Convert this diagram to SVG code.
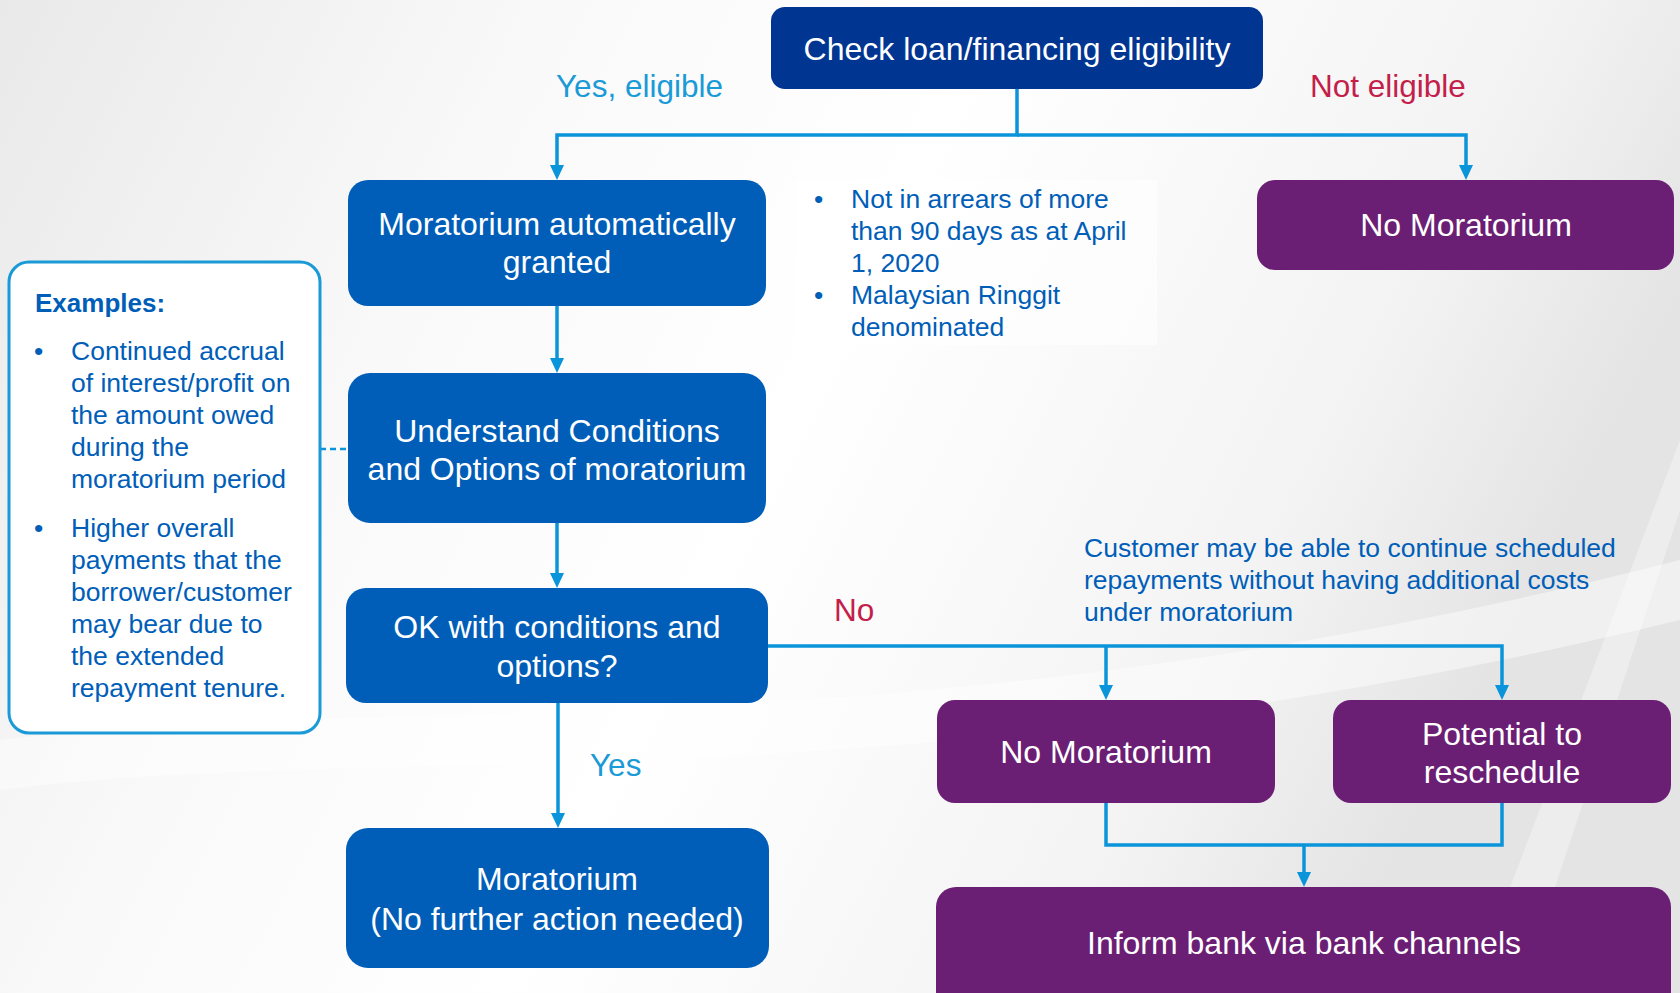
<svg xmlns="http://www.w3.org/2000/svg" width="1680" height="993" viewBox="0 0 1680 993">
<defs>
<linearGradient id="bg" x1="0" y1="0" x2="1" y2="0.3">
<stop offset="0" stop-color="#e9e9e9"/>
<stop offset="0.3" stop-color="#f9f9f9"/>
<stop offset="0.55" stop-color="#ffffff"/>
<stop offset="0.85" stop-color="#f3f3f3"/>
<stop offset="1" stop-color="#e4e4e4"/>
</linearGradient>
<style>
.bl{fill:#005EB8}
.db{fill:#003591}
.pu{fill:#6B1F74}
.nt{font-family:"Liberation Sans",Arial,sans-serif;font-size:32px;fill:#ffffff;text-anchor:middle}
.lb{font-family:"Liberation Sans",Arial,sans-serif;font-size:31.5px}
.sm{font-family:"Liberation Sans",Arial,sans-serif;font-size:26.5px;fill:#005EB8}
.con{fill:none;stroke:#0A94DA;stroke-width:3.5}
.ah{fill:#0A94DA}
</style>
</defs>
<rect x="0" y="0" width="1680" height="993" fill="url(#bg)"/>
<path d="M0,740 C400,690 900,760 1680,560 L1680,620 C900,810 400,740 0,790 Z" fill="#ffffff" opacity="0.45"/>
<path d="M1470,993 L1680,440 L1680,510 L1520,993 Z" fill="#ffffff" opacity="0.35"/>
<rect x="795" y="180" width="362" height="165" fill="#ffffff" opacity="0.6"/>

<g id="connectors">
<path class="con" d="M1017,89 V135 H557 V165"/>
<path class="con" d="M1017,135 H1466 V165"/>
<path class="con" d="M557,306 V358"/>
<path class="con" d="M557,523 V573"/>
<path class="con" d="M558,703 V813"/>
<path class="con" d="M768,646 H1502 V685"/>
<path class="con" d="M1106,646 V685"/>
<path class="con" d="M1106,803 V845 H1502 V803"/>
<path class="con" d="M1304,845 V872"/>
<path d="M320,449 H348" fill="none" stroke="#0A94DA" stroke-width="2.5" stroke-dasharray="6,4"/>
<path class="ah" d="M550,165 H564 L557,180 Z"/>
<path class="ah" d="M1459,165 H1473 L1466,180 Z"/>
<path class="ah" d="M550,358 H564 L557,373 Z"/>
<path class="ah" d="M550,573 H564 L557,588 Z"/>
<path class="ah" d="M551,813 H565 L558,828 Z"/>
<path class="ah" d="M1099,685 H1113 L1106,700 Z"/>
<path class="ah" d="M1495,685 H1509 L1502,700 Z"/>
<path class="ah" d="M1297,872 H1311 L1304,887 Z"/>
<text class="lb" x="556" y="97" fill="#1A9AD6">Yes, eligible</text>
<text class="lb" x="1310" y="97" fill="#C41E4A">Not eligible</text>
<text class="lb" x="834" y="621" fill="#C41E4A">No</text>
<text class="lb" x="590" y="776" fill="#1A9AD6">Yes</text>
</g>

<g id="n-check">
<rect class="db" x="771" y="7" width="492" height="82" rx="14"/>
<text class="nt" x="1017" y="60">Check loan/financing eligibility</text>
</g>
<g id="n-auto">
<rect class="bl" x="348" y="180" width="418" height="126" rx="20"/>
<text class="nt" x="557" y="235">Moratorium automatically</text>
<text class="nt" x="557" y="273">granted</text>
</g>
<g id="n-criteria">
<text class="sm" x="814" y="208">•</text>
<text class="sm" x="851" y="208">Not in arrears of more</text>
<text class="sm" x="851" y="240">than 90 days as at April</text>
<text class="sm" x="851" y="272">1, 2020</text>
<text class="sm" x="814" y="304">•</text>
<text class="sm" x="851" y="304">Malaysian Ringgit</text>
<text class="sm" x="851" y="336">denominated</text>
</g>
<g id="n-nomor1">
<rect class="pu" x="1257" y="180" width="417" height="90" rx="18"/>
<text class="nt" x="1466" y="236">No Moratorium</text>
</g>
<g id="n-understand">
<rect class="bl" x="348" y="373" width="418" height="150" rx="22"/>
<text class="nt" x="557" y="442">Understand Conditions</text>
<text class="nt" x="557" y="480">and Options of moratorium</text>
</g>
<g id="n-examples">
<rect x="9" y="262" width="311" height="471" rx="20" fill="#ffffff" stroke="#1A9AD6" stroke-width="3"/>
<text x="35" y="312" font-family="Liberation Sans, Arial, sans-serif" font-size="26px" font-weight="bold" fill="#005EB8">Examples:</text>
<text class="sm" x="34" y="360">•</text>
<text class="sm" x="71" y="360">Continued accrual</text>
<text class="sm" x="71" y="392">of interest/profit on</text>
<text class="sm" x="71" y="424">the amount owed</text>
<text class="sm" x="71" y="456">during the</text>
<text class="sm" x="71" y="488">moratorium period</text>
<text class="sm" x="34" y="537">•</text>
<text class="sm" x="71" y="537">Higher overall</text>
<text class="sm" x="71" y="569">payments that the</text>
<text class="sm" x="71" y="601">borrower/customer</text>
<text class="sm" x="71" y="633">may bear due to</text>
<text class="sm" x="71" y="665">the extended</text>
<text class="sm" x="71" y="697">repayment tenure.</text>
</g>
<g id="n-ok">
<rect class="bl" x="346" y="588" width="422" height="115" rx="20"/>
<text class="nt" x="557" y="638">OK with conditions and</text>
<text class="nt" x="557" y="677">options?</text>
</g>
<g id="n-customer">
<text class="sm" x="1084" y="557">Customer may be able to continue scheduled</text>
<text class="sm" x="1084" y="589">repayments without having additional costs</text>
<text class="sm" x="1084" y="621">under moratorium</text>
</g>
<g id="n-nomor2">
<rect class="pu" x="937" y="700" width="338" height="103" rx="18"/>
<text class="nt" x="1106" y="763">No Moratorium</text>
</g>
<g id="n-potential">
<rect class="pu" x="1333" y="700" width="338" height="103" rx="18"/>
<text class="nt" x="1502" y="745">Potential to</text>
<text class="nt" x="1502" y="783">reschedule</text>
</g>
<g id="n-moratorium">
<rect class="bl" x="346" y="828" width="423" height="140" rx="22"/>
<text class="nt" x="557" y="890">Moratorium</text>
<text class="nt" x="557" y="930">(No further action needed)</text>
</g>
<g id="n-inform">
<rect class="pu" x="936" y="887" width="735" height="130" rx="20"/>
<text class="nt" x="1304" y="954">Inform bank via bank channels</text>
</g>
</svg>
